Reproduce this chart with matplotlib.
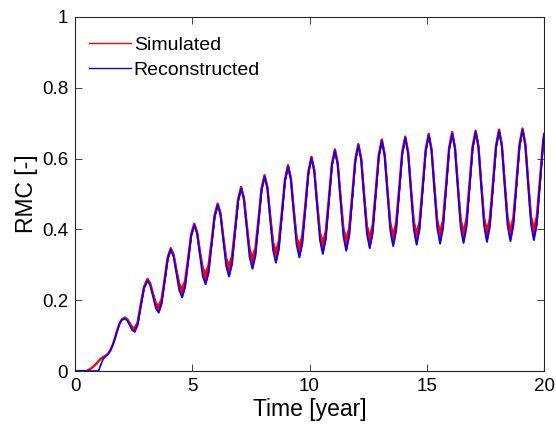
import matplotlib
matplotlib.use("Agg")
import matplotlib.pyplot as plt
import numpy as np

plt.rcParams['font.family'] = ['Liberation Sans', 'DejaVu Sans']

# time axis [year], shared by both series
time = [
    0.0, 0.5, 0.7, 0.9, 1.0, 1.1, 1.2, 1.3, 1.4, 1.5, 1.6, 1.7, 1.8, 1.9, 2.0,
    2.12, 2.22, 2.32, 2.43, 2.54, 2.67, 2.80, 2.94,
    3.09, 3.20, 3.32, 3.44, 3.56, 3.69, 3.82, 3.95,
    4.08, 4.20, 4.32, 4.44, 4.56, 4.69, 4.82, 4.95,
    5.08, 5.20, 5.32, 5.44, 5.56, 5.69, 5.82, 5.95,
    6.08, 6.20, 6.32, 6.44, 6.56, 6.69, 6.82, 6.95,
    7.08, 7.20, 7.32, 7.44, 7.56, 7.69, 7.82, 7.95,
    8.08, 8.20, 8.32, 8.44, 8.56, 8.69, 8.82, 8.95,
    9.08, 9.20, 9.32, 9.44, 9.56, 9.69, 9.82, 9.95,
    10.08, 10.20, 10.32, 10.44, 10.56, 10.69, 10.82, 10.95,
    11.08, 11.20, 11.32, 11.44, 11.56, 11.69, 11.82, 11.95,
    12.08, 12.20, 12.32, 12.44, 12.56, 12.69, 12.82, 12.95,
    13.08, 13.20, 13.32, 13.44, 13.56, 13.69, 13.82, 13.95,
    14.08, 14.20, 14.32, 14.44, 14.56, 14.69, 14.82, 14.95,
    15.08, 15.20, 15.32, 15.44, 15.56, 15.69, 15.82, 15.95,
    16.08, 16.20, 16.32, 16.44, 16.56, 16.69, 16.82, 16.95,
    17.08, 17.20, 17.32, 17.44, 17.56, 17.69, 17.82, 17.95,
    18.08, 18.20, 18.32, 18.44, 18.56, 18.69, 18.82, 18.95,
    19.08, 19.20, 19.32, 19.44, 19.56, 19.69, 19.82, 19.95,
    20.0,
]

# reconstructed RMC (blue)
reconstructed = [
    0.0, 0.0, 0.0, 0.0, 0.0, 0.018, 0.034, 0.041, 0.047, 0.057, 0.071, 0.091, 0.113, 0.133, 0.145,
    0.148, 0.143, 0.130, 0.116, 0.111, 0.132, 0.184, 0.235,
    0.256, 0.243, 0.211, 0.178, 0.165, 0.191, 0.254, 0.317,
    0.343, 0.323, 0.276, 0.228, 0.208, 0.238, 0.310, 0.382,
    0.412, 0.388, 0.329, 0.269, 0.245, 0.278, 0.357, 0.436,
    0.469, 0.440, 0.368, 0.297, 0.267, 0.303, 0.392, 0.480,
    0.516, 0.483, 0.403, 0.322, 0.289, 0.327, 0.419, 0.511,
    0.549, 0.514, 0.428, 0.342, 0.306, 0.346, 0.442, 0.537,
    0.577, 0.540, 0.449, 0.358, 0.321, 0.362, 0.461, 0.560,
    0.601, 0.562, 0.466, 0.370, 0.331, 0.374, 0.477, 0.580,
    0.622, 0.581, 0.481, 0.381, 0.340, 0.383, 0.489, 0.594,
    0.637, 0.595, 0.492, 0.389, 0.347, 0.391, 0.499, 0.606,
    0.650, 0.607, 0.502, 0.396, 0.353, 0.398, 0.506, 0.614,
    0.658, 0.614, 0.508, 0.401, 0.357, 0.402, 0.512, 0.621,
    0.666, 0.621, 0.513, 0.405, 0.360, 0.405, 0.516, 0.626,
    0.671, 0.626, 0.517, 0.407, 0.362, 0.408, 0.519, 0.629,
    0.675, 0.630, 0.520, 0.410, 0.365, 0.411, 0.522, 0.632,
    0.678, 0.633, 0.523, 0.412, 0.367, 0.413, 0.524, 0.635,
    0.681, 0.636, 0.526, 0.415, 0.370, 0.416, 0.527, 0.637,
    0.667,
]

# simulated RMC (red, upper edge of the noisy band)
simulated = [
    0.0, 0.0, 0.008, 0.020, 0.028, 0.035, 0.039, 0.043, 0.048, 0.058, 0.073, 0.093, 0.116, 0.135, 0.146,
    0.151, 0.147, 0.136, 0.124, 0.121, 0.138, 0.188, 0.238,
    0.260, 0.248, 0.219, 0.192, 0.183, 0.203, 0.260, 0.321,
    0.347, 0.329, 0.286, 0.246, 0.232, 0.254, 0.317, 0.386,
    0.416, 0.394, 0.339, 0.291, 0.275, 0.298, 0.365, 0.440,
    0.473, 0.446, 0.378, 0.319, 0.297, 0.323, 0.400, 0.484,
    0.520, 0.489, 0.413, 0.344, 0.319, 0.347, 0.427, 0.515,
    0.553, 0.520, 0.438, 0.364, 0.336, 0.366, 0.450, 0.541,
    0.581, 0.546, 0.459, 0.380, 0.351, 0.382, 0.469, 0.564,
    0.605, 0.568, 0.476, 0.392, 0.361, 0.394, 0.485, 0.584,
    0.626, 0.587, 0.491, 0.403, 0.370, 0.403, 0.497, 0.598,
    0.641, 0.601, 0.502, 0.411, 0.377, 0.411, 0.507, 0.610,
    0.654, 0.613, 0.512, 0.418, 0.383, 0.418, 0.514, 0.618,
    0.662, 0.620, 0.518, 0.423, 0.387, 0.422, 0.520, 0.625,
    0.670, 0.627, 0.523, 0.427, 0.390, 0.425, 0.524, 0.630,
    0.675, 0.632, 0.527, 0.429, 0.392, 0.428, 0.527, 0.633,
    0.679, 0.636, 0.530, 0.432, 0.395, 0.431, 0.530, 0.636,
    0.682, 0.639, 0.533, 0.434, 0.397, 0.433, 0.532, 0.639,
    0.685, 0.642, 0.536, 0.437, 0.400, 0.436, 0.535, 0.641,
    0.670,
]

x_ticks = [0, 5, 10, 15, 20]
y_ticks = [0, 0.2, 0.4, 0.6, 0.8, 1]
y_tick_labels = ['0', '0.2', '0.4', '0.6', '0.8', '1']

axis_color = '#262626'

fig = plt.figure(figsize=(5.56, 4.42), dpi=100)
ax = fig.add_axes([0.135, 0.1606, 0.8435, 0.801])

t = np.array(time)
rec = np.array(reconstructed)
sim = np.array(simulated)

# noisy band of the simulated series
ax.fill_between(t, rec, sim, where=t >= 2.0, color='red', linewidth=0.8, edgecolor='red')
ax.plot(t, sim, color='red', linewidth=1.7, label='Simulated')
ax.plot(t, rec, color='blue', linewidth=1.2, label='Reconstructed')

ax.set_xlim(0, 20)
ax.set_ylim(0, 1)
ax.set_xticks(x_ticks)
ax.set_yticks(y_ticks)
ax.set_yticklabels(y_tick_labels)
ax.tick_params(direction='in', length=5, width=0.6, top=True, right=True,
               labelsize=13.5, colors=axis_color, labelcolor='black', pad=5)
for s in ax.spines.values():
    s.set_color(axis_color)
    s.set_linewidth(0.8)

ax.set_xlabel('Time [year]', fontsize=16.5, labelpad=2)
ax.set_ylabel('RMC [-]', fontsize=16.5, labelpad=3)

leg = ax.legend(loc='upper left', bbox_to_anchor=(0.0, 0.985), frameon=False, fontsize=14,
                handlelength=2.2, handletextpad=0.12, labelspacing=0.4, borderaxespad=0.3)
for line in leg.get_lines():
    line.set_linewidth(1.0)

fig.savefig('out.png', dpi=100)
